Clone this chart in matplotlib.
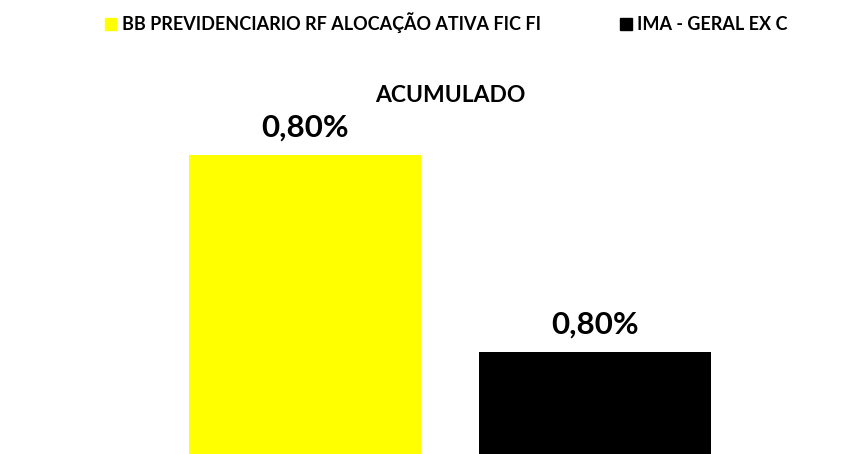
import matplotlib.pyplot as plt
from matplotlib.patches import Patch

# dados do gráfico
series = ['BB PREVIDENCIARIO RF ALOCAÇÃO ATIVA FIC FI', 'IMA - GERAL EX C']
values = [0.8047, 0.7950]   # % acumulado
colors = ['#FFFF00', '#000000']
title = 'ACUMULADO'

plt.rcParams['font.family'] = ['Lato', 'DejaVu Sans']

fig = plt.figure(figsize=(8.66, 4.54), dpi=100)
ax = fig.add_axes([160 / 866, 0, 580 / 866, 325 / 454])

bars = ax.bar(range(len(values)), values, width=0.8, color=colors)
ax.set_xlim(-0.5, 1.5)
ax.set_ylim(0.79, 0.806)
ax.axis('off')

# rótulos de dados acima das barras
for b, v in zip(bars, values):
    ax.annotate(f'{v:.2f}%'.replace('.', ','),
                (b.get_x() + b.get_width() / 2, v),
                xytext=(0, 10), textcoords='offset points',
                ha='center', va='bottom', fontsize=22.5, fontweight='bold')

fig.text(450 / 866, 1 - 95 / 454, title, ha='center', va='center',
         fontsize=16.5, fontweight='bold')

handles = [Patch(color=c, label=s) for c, s in zip(colors, series)]
fig.legend(handles=handles, loc='center', bbox_to_anchor=(446 / 866, 1 - 23 / 454),
           ncol=2, frameon=False, handlelength=0.65, handleheight=0.65,
           handletextpad=0.28, columnspacing=4.4,
           prop={'weight': 'bold', 'size': 13})

fig.savefig('out.png', dpi=100)
